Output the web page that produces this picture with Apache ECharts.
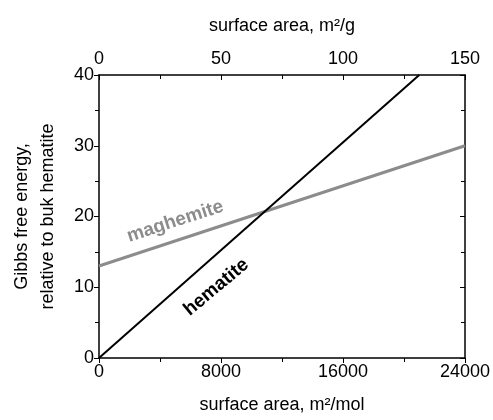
<!DOCTYPE html>
<html>
<head>
<meta charset="utf-8">
<script src="https://cdn.jsdelivr.net/npm/echarts@6/dist/echarts.min.js"></script>
<style>html,body{margin:0;padding:0;background:#fff}#main{width:493px;height:420px}</style>
</head>
<body>
<div id="main"></div>
<script>
// surface area in m2/mol (bottom axis), energy relative to bulk hematite
var hematiteX = [0, 21000];
var hematiteY = [0, 40];
var maghemiteX = [0, 24000];
var maghemiteY = [13, 30];
var bottomTicks = [0, 8000, 16000, 24000];
var topTicks = [0, 50, 100, 150];
var yTicks = [0, 10, 20, 30, 40];

var font = 'Liberation Sans';

function pairs(xs, ys) {
    var out = [];
    for (var i = 0; i < xs.length; i++) out.push([xs[i], ys[i]]);
    return out;
}

function ticks(inside) {
    return { show: true, inside: inside, length: 5, lineStyle: { color: '#000', width: 1 } };
}
var minorCommon = { show: true, splitNumber: 2, length: 4, lineStyle: { color: '#000', width: 1 } };
var labelCommon = { fontFamily: font, fontSize: 18, color: '#000', margin: 5, formatter: function (v) { return String(v); } };
var lineCommon = { show: true, onZero: false, lineStyle: { color: '#000', width: 1.5 } };

var myChart = echarts.init(document.getElementById('main'));

var option = {
    animation: false,
    backgroundColor: '#fff',
    grid: { left: 99, right: 25, top: 75, bottom: 62 },
    xAxis: [{
        type: 'value', position: 'bottom',
        min: bottomTicks[0], max: bottomTicks[bottomTicks.length - 1], interval: 8000,
        name: 'surface area, m²/mol', nameLocation: 'middle', nameGap: 38,
        nameTextStyle: { fontFamily: font, fontSize: 18, color: '#000' },
        axisLine: lineCommon, axisTick: ticks(false), minorTick: minorCommon,
        axisLabel: labelCommon, splitLine: { show: false }
    }, {
        type: 'value', position: 'top',
        min: topTicks[0], max: topTicks[topTicks.length - 1], interval: 50,
        name: 'surface area, m²/g', nameLocation: 'middle', nameGap: 40,
        nameTextStyle: { fontFamily: font, fontSize: 18, color: '#000' },
        axisLine: lineCommon, axisTick: ticks(true), minorTick: minorCommon,
        axisLabel: { fontFamily: font, fontSize: 18, color: '#000', margin: 7 },
        splitLine: { show: false }
    }],
    yAxis: [{
        type: 'value', position: 'left',
        min: yTicks[0], max: yTicks[yTicks.length - 1], interval: 10,
        name: 'Gibbs free energy,\nrelative to buk hematite', nameLocation: 'middle', nameGap: 38,
        nameTextStyle: { fontFamily: font, fontSize: 18, color: '#000', lineHeight: 26 },
        axisLine: lineCommon, axisTick: ticks(false), minorTick: minorCommon,
        axisLabel: labelCommon, splitLine: { show: false }
    }, {
        type: 'value', position: 'right',
        min: yTicks[0], max: yTicks[yTicks.length - 1], interval: 10,
        axisLine: lineCommon, axisTick: ticks(true), minorTick: minorCommon,
        axisLabel: { show: false }, splitLine: { show: false }
    }],
    series: [{
        name: 'maghemite', type: 'line', xAxisIndex: 0, yAxisIndex: 0,
        data: pairs(maghemiteX, maghemiteY),
        showSymbol: false, silent: true,
        lineStyle: { color: '#8c8c8c', width: 3 },
        markPoint: {
            symbolSize: 0,
            data: [{ coord: [5000, 19.3] }],
            label: {
                show: true, formatter: 'maghemite', rotate: 18,
                fontFamily: font, fontSize: 19, fontWeight: 'bold', color: '#8c8c8c'
            }
        }
    }, {
        name: 'hematite', type: 'line', xAxisIndex: 0, yAxisIndex: 0,
        data: pairs(hematiteX, hematiteY),
        showSymbol: false, silent: true,
        lineStyle: { color: '#000', width: 2 },
        markPoint: {
            symbolSize: 0,
            data: [{ coord: [7700, 10.0] }],
            label: {
                show: true, formatter: 'hematite', rotate: 40,
                fontFamily: font, fontSize: 19, fontWeight: 'bold', color: '#000'
            }
        }
    }]
};

myChart.setOption(option);
</script>
</body>
</html>
